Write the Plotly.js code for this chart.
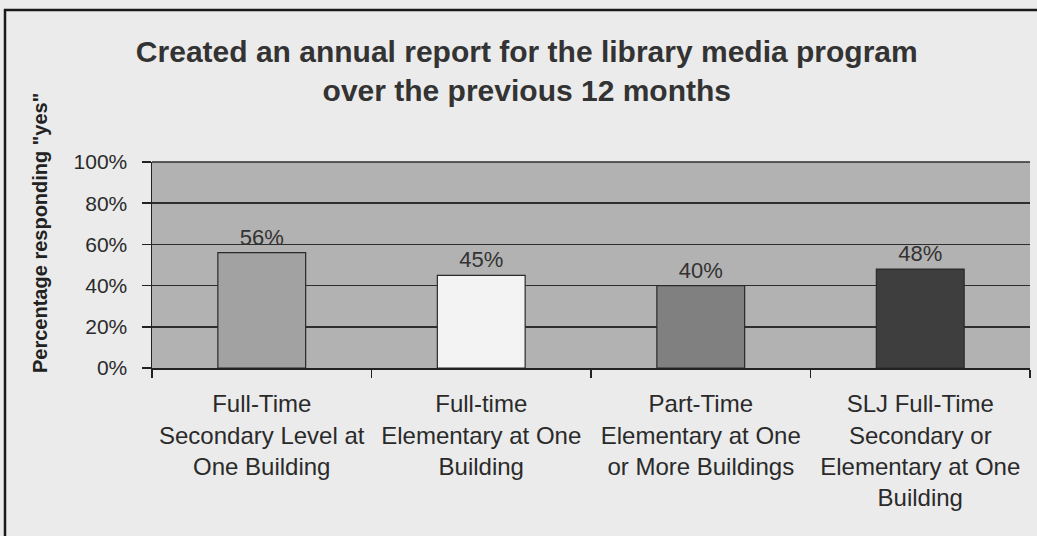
<!DOCTYPE html>
<html>
<head>
<meta charset="utf-8">
<script src="https://cdn.plot.ly/plotly-3.0.1.min.js"></script>
<style>
  html, body { margin: 0; padding: 0; background: #ebebeb; overflow: hidden; }
  #chart { width: 1037px; height: 536px; }
</style>
</head>
<body>
<div id="chart"></div>
<script>
const categories = [
  "Full-Time<br>Secondary Level at<br>One Building",
  "Full-time<br>Elementary at One<br>Building",
  "Part-Time<br>Elementary at One<br>or More Buildings",
  "SLJ Full-Time<br>Secondary or<br>Elementary at One<br>Building"
];
const values = [0.56, 0.45, 0.40, 0.48];
const barColors = ["#a2a2a2", "#f3f3f3", "#808080", "#3e3e3e"];
const tickValues = [0, 0.2, 0.4, 0.6, 0.8, 1.0];
const tickLabels = ["0%", "20%", "40%", "60%", "80%", "100%"];
const chartTitle = "Created an annual report for the library media program<br>over the previous 12 months";
const yTitle = "Percentage responding \"yes\"";

const W = 1037, H = 536;
const M = {l: 152, r: 7, t: 162, b: 168};
const pw = W - M.l - M.r, ph = H - M.t - M.b;
const px2x = p => (p - M.l) / pw;
const py2y = p => (H - M.b - p) / ph;

const trace = {
  type: "bar",
  x: categories,
  y: values,
  width: 0.4,
  marker: { color: barColors, line: { color: "#2a2a2a", width: 1.2 } },
  text: values.map(v => Math.round(v * 100) + "%"),
  textposition: "outside",
  textfont: { family: "Liberation Sans, Arial, sans-serif", size: 22, color: "#333333" },
  cliponaxis: false,
  hoverinfo: "skip"
};

const layout = {
  width: W, height: H,
  margin: M,
  paper_bgcolor: "#ebebeb",
  plot_bgcolor: "#b2b2b2",
  showlegend: false,
  bargap: 0.6,
  title: {
    text: chartTitle,
    font: { family: "Liberation Sans, Arial, sans-serif", size: 30, color: "#333333", weight: "bold" },
    x: 0.508, xref: "container", xanchor: "center",
    y: 1 - 62 / H, yref: "container", yanchor: "top"
  },
  xaxis: {
    type: "category",
    tickson: "boundaries",
    tickangle: 0,
    automargin: false,
    ticks: "outside", ticklen: 8, tickcolor: "#222", tickwidth: 1.5,
    showline: true, linecolor: "#222", linewidth: 1.5,
    showgrid: false,
    tickfont: { family: "Liberation Sans, Arial, sans-serif", size: 24, color: "#2a2a2a" },
    ticklabelstandoff: 14,
    fixedrange: true
  },
  yaxis: {
    range: [0, 1],
    tickvals: tickValues, ticktext: tickLabels,
    automargin: false,
    ticks: "outside", ticklen: 9, tickcolor: "#222", tickwidth: 1.5,
    showline: true, linecolor: "#222", linewidth: 1.5,
    showgrid: true, gridcolor: "#2e2e2e", gridwidth: 1.6,
    zeroline: false,
    tickfont: { family: "Liberation Sans, Arial, sans-serif", size: 21, color: "#2a2a2a" },
    ticklabelstandoff: 10,
    fixedrange: true
  },
  annotations: [{
    text: yTitle,
    xref: "paper", yref: "paper",
    x: px2x(40), y: py2y(233),
    xanchor: "center", yanchor: "middle",
    textangle: -90, showarrow: false,
    font: { family: "Liberation Sans, Arial, sans-serif", size: 20, color: "#222", weight: "bold" }
  }],
  shapes: [
    { type: "line", xref: "paper", yref: "paper",
      x0: 0, x1: 1, y0: 1, y1: 1,
      line: { color: "#2e2e2e", width: 1.6 } },
    { type: "line", xref: "paper", yref: "paper",
      x0: px2x(4), x1: px2x(W), y0: py2y(10), y1: py2y(10),
      line: { color: "#1a1a1a", width: 2.5 } },
    { type: "line", xref: "paper", yref: "paper",
      x0: px2x(5), x1: px2x(5), y0: py2y(9), y1: py2y(H + 2),
      line: { color: "#1a1a1a", width: 2.5 } }
  ]
};

Plotly.newPlot("chart", [trace], layout, { displayModeBar: false, staticPlot: true });
</script>
</body>
</html>
